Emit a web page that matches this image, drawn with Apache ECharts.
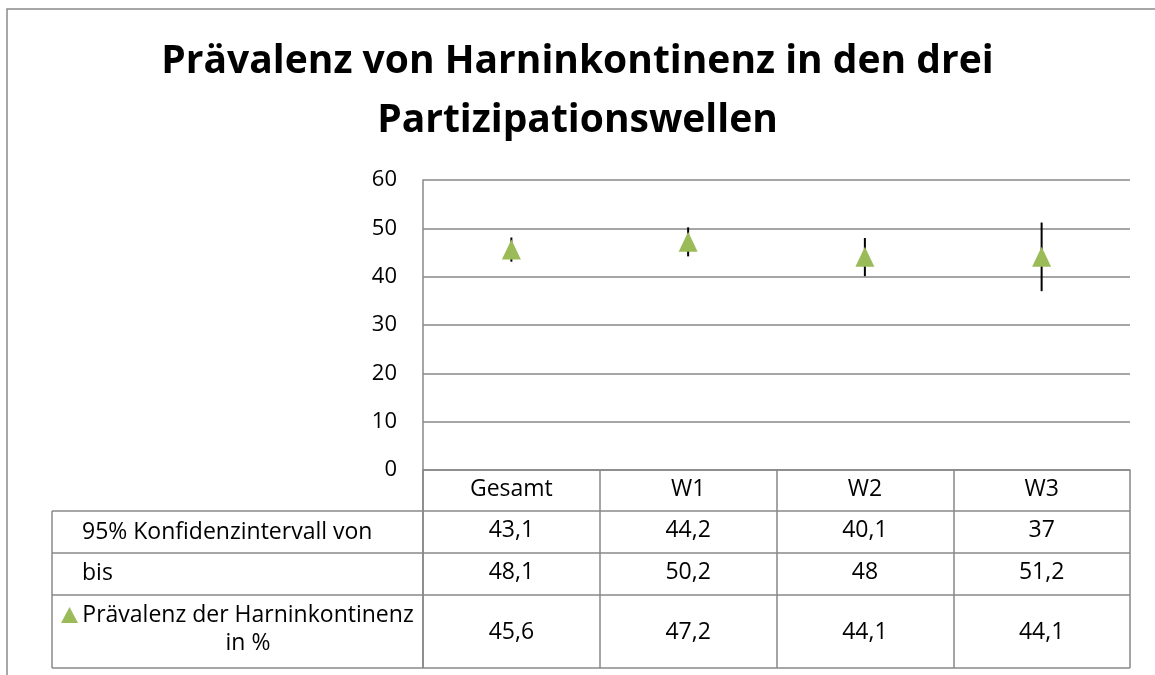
<!DOCTYPE html>
<html>
<head>
<meta charset="utf-8">
<script src="https://cdn.jsdelivr.net/npm/echarts@6/dist/echarts.min.js"></script>
<style>
  html, body { margin: 0; padding: 0; background: #fff; }
  #chart { width: 1155px; height: 675px; }
</style>
</head>
<body>
<div id="chart"></div>
<script>
// Daten
var categories = ['Gesamt', 'W1', 'W2', 'W3'];
var ciLower = [43.1, 44.2, 40.1, 37];
var ciUpper = [48.1, 50.2, 48, 51.2];
var prevalence = [45.6, 47.2, 44.1, 44.1];
var yTicks = [0, 10, 20, 30, 40, 50, 60];
var rowLabels = ['95% Konfidenzintervall von', 'bis', 'Prävalenz der Harninkontinenz\nin %'];
var seriesName = 'Prävalenz der Harninkontinenz in %';

var FONT = '"Open Sans"';
var GRID_LINE = '#888888';
var GREEN = '#9bbb59';

function fmt(v) {
  return String(v).replace('.', ',');
}

// eine x-Achse pro Tabellenzeile, nur für die Beschriftung
function tableRowAxis(values, offset, margin) {
  return {
    type: 'category',
    data: categories,
    position: 'bottom',
    offset: offset,
    axisLine: { show: false },
    axisTick: { show: false },
    axisLabel: {
      margin: margin,
      fontFamily: FONT,
      fontSize: 23,
      color: '#000',
      formatter: function (v, i) { return fmt(values[i]); }
    }
  };
}

var chart = echarts.init(document.getElementById('chart'));

chart.setOption({
  animation: false,
  backgroundColor: '#fff',
  title: {
    text: 'Prävalenz von Harninkontinenz in den drei\nPartizipationswellen',
    left: 'center',
    top: 32,
    padding: [0, 0, 0, 9],
    textStyle: {
      fontFamily: FONT,
      fontWeight: 'bold',
      fontSize: 39,
      lineHeight: 59,
      color: '#000'
    }
  },
  legend: {
    data: [seriesName],
    left: 61,
    top: 607,
    itemWidth: 17,
    itemHeight: 16,
    itemGap: 0,
    padding: 0,
    itemStyle: { opacity: 1 },
    formatter: function () { return ''; },
    selectedMode: false
  },
  grid: { left: 423, right: 25, top: 180, bottom: 205 },
  xAxis: [
    {
      type: 'category',
      data: categories,
      boundaryGap: true,
      axisLine: { show: true, lineStyle: { color: GRID_LINE, width: 1.5 } },
      axisTick: { show: true, inside: false, length: 198, lineStyle: { color: GRID_LINE, width: 1.5 } },
      axisLabel: { margin: 8, fontFamily: FONT, fontSize: 23, color: '#000' }
    },
    tableRowAxis(ciLower, 41, 8),
    tableRowAxis(ciUpper, 83, 8),
    tableRowAxis(prevalence, 125, 26)
  ],
  yAxis: {
    type: 'value',
    min: 0,
    max: yTicks[yTicks.length - 1],
    interval: yTicks[1] - yTicks[0],
    axisLine: { show: true, lineStyle: { color: GRID_LINE, width: 1.5 } },
    axisTick: { show: false },
    axisLabel: { margin: 26, fontFamily: FONT, fontSize: 22, color: '#000' },
    splitLine: { lineStyle: { color: GRID_LINE, width: 1.5 } }
  },
  graphic: [
    // äußerer Diagrammrahmen
    { type: 'rect', shape: { x: 7, y: 9, width: 1200, height: 720 }, style: { fill: null, stroke: '#8a8a8a', lineWidth: 1.5 }, silent: true },
    // Tabellenlinien
    { type: 'line', shape: { x1: 52, y1: 511, x2: 1130, y2: 511 }, style: { stroke: GRID_LINE, lineWidth: 1.5 } },
    { type: 'line', shape: { x1: 52, y1: 553, x2: 1130, y2: 553 }, style: { stroke: GRID_LINE, lineWidth: 1.5 } },
    { type: 'line', shape: { x1: 52, y1: 595, x2: 1130, y2: 595 }, style: { stroke: GRID_LINE, lineWidth: 1.5 } },
    { type: 'line', shape: { x1: 52, y1: 668, x2: 1130, y2: 668 }, style: { stroke: GRID_LINE, lineWidth: 1.5 } },
    { type: 'line', shape: { x1: 52, y1: 511, x2: 52, y2: 668 }, style: { stroke: GRID_LINE, lineWidth: 1.5 } },
    { type: 'line', shape: { x1: 423, y1: 470, x2: 423, y2: 668 }, style: { stroke: GRID_LINE, lineWidth: 1.5 } },
    // Zeilenbeschriftungen
    { type: 'text', x: 82, y: 532, style: { text: rowLabels[0], font: '23px ' + FONT, fill: '#000', verticalAlign: 'middle' } },
    { type: 'text', x: 82, y: 573, style: { text: rowLabels[1], font: '23px ' + FONT, fill: '#000', verticalAlign: 'middle' } },
    { type: 'text', x: 248, y: 629, style: { text: rowLabels[2], font: '23px ' + FONT, fill: '#000', align: 'center', verticalAlign: 'middle', lineHeight: 28 } }
  ],
  series: [
    {
      name: 'Konfidenzintervall',
      type: 'custom',
      z: 1,
      data: categories.map(function (c, i) { return [i, ciLower[i], ciUpper[i]]; }),
      renderItem: function (params, api) {
        var lo = api.coord([api.value(0), api.value(1)]);
        var hi = api.coord([api.value(0), api.value(2)]);
        return {
          type: 'line',
          shape: { x1: lo[0], y1: lo[1], x2: hi[0], y2: hi[1] },
          style: { stroke: '#000', lineWidth: 2 }
        };
      }
    },
    {
      name: seriesName,
      type: 'scatter',
      z: 3,
      symbol: 'triangle',
      symbolSize: [19, 20],
      itemStyle: { color: GREEN, opacity: 1 },
      data: prevalence
    }
  ]
});

window.addEventListener('resize', function () {
  chart.resize();
});
</script>
</body>
</html>
